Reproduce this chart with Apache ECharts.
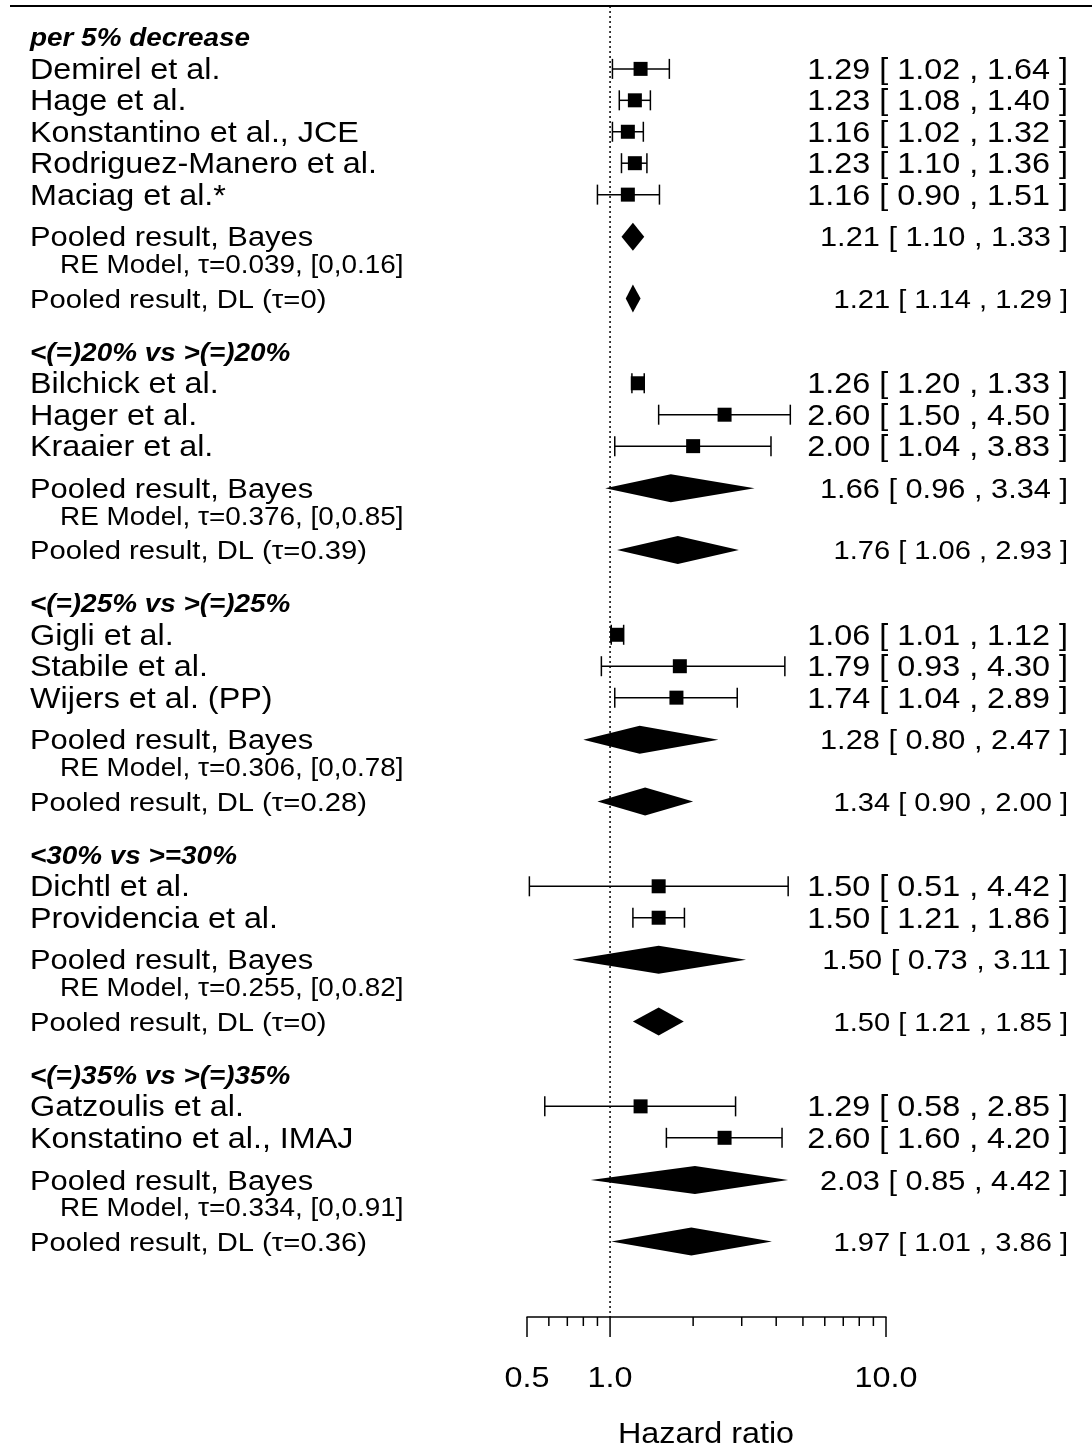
<!DOCTYPE html>
<html>
<head>
<meta charset="utf-8">
<script src="https://cdn.jsdelivr.net/npm/echarts@6/dist/echarts.min.js"></script>
<style>
html, body { margin: 0; padding: 0; background: #fff; }
#main { width: 1092px; height: 1447px; }
</style>
</head>
<body>
<div id="main"></div>
<script>
// data
var groupTitles = ["per 5% decrease", "<(=)20% vs >(=)20%", "<(=)25% vs >(=)25%", "<30% vs >=30%", "<(=)35% vs >(=)35%"];

var studyNames = ["Demirel et al.", "Hage et al.", "Konstantino et al., JCE", "Rodriguez-Manero et al.", "Maciag et al.*",
  "Bilchick et al.", "Hager et al.", "Kraaier et al.",
  "Gigli et al.", "Stabile et al.", "Wijers et al. (PP)",
  "Dichtl et al.", "Providencia et al.",
  "Gatzoulis et al.", "Konstatino et al., IMAJ"];
var studyGroup = [0, 0, 0, 0, 0, 1, 1, 1, 2, 2, 2, 3, 3, 4, 4];
var studyHR   = [1.29, 1.23, 1.16, 1.23, 1.16, 1.26, 2.60, 2.00, 1.06, 1.79, 1.74, 1.50, 1.50, 1.29, 2.60];
var studyLow  = [1.02, 1.08, 1.02, 1.10, 0.90, 1.20, 1.50, 1.04, 1.01, 0.93, 1.04, 0.51, 1.21, 0.58, 1.60];
var studyHigh = [1.64, 1.40, 1.32, 1.36, 1.51, 1.33, 4.50, 3.83, 1.12, 4.30, 2.89, 4.42, 1.86, 2.85, 4.20];

var bayesHR   = [1.21, 1.66, 1.28, 1.50, 2.03];
var bayesLow  = [1.10, 0.96, 0.80, 0.73, 0.85];
var bayesHigh = [1.33, 3.34, 2.47, 3.11, 4.42];
var reTau     = ["0.039", "0.376", "0.306", "0.255", "0.334"];
var reTauCI   = ["[0,0.16]", "[0,0.85]", "[0,0.78]", "[0,0.82]", "[0,0.91]"];

var dlTau  = ["0", "0.39", "0.28", "0", "0.36"];
var dlHR   = [1.21, 1.76, 1.34, 1.50, 1.97];
var dlLow  = [1.14, 1.06, 0.90, 1.21, 1.01];
var dlHigh = [1.29, 2.93, 2.00, 1.85, 3.86];

var tickMajor = [0.5, 1, 10];
var tickMajorLabels = ["0.5", "1.0", "10.0"];
var tickMinor = [0.6, 0.7, 0.8, 0.9, 2, 3, 4, 5, 6, 7, 8, 9];

// row layout (one unit = one text line)
var headerRow = [], studyRow = [], bayesRow = [], dlRow = [];
var r = 0, k = 0;
for (var g = 0; g < groupTitles.length; g++) {
  headerRow.push(r);
  var n = 0;
  while (k < studyGroup.length && studyGroup[k] == g) {
    studyRow.push(r + n + 1);
    n++; k++;
  }
  bayesRow.push(r + n + 1.34);
  dlRow.push(r + n + 3.3);
  r += n + 5;
}
var yMax = 40.7;

var FONT = "Liberation Sans";
var SX = 1.115; // the picture is a bit wider than tall
var TY = 2;     // text sits a little low in the original

function lg(v) { return Math.log10(v); }
function fmt(e, lo, hi) { return e.toFixed(2) + " [ " + lo.toFixed(2) + " , " + hi.toFixed(2) + " ]"; }
function txt(x, y, s, size, align, style) {
  return {
    type: "text", x: x, y: y + TY, scaleX: SX,
    style: {
      text: s, fill: "#000", fontFamily: FONT, fontSize: size,
      fontStyle: style ? "italic" : "normal", fontWeight: style ? "bold" : "normal",
      align: align, verticalAlign: "middle"
    }
  };
}
var LEFT_X = 30, RE_X = 60, RIGHT_X = 1068;

function diamond(api, e, lo, hi, row) {
  var c = api.coord([lg(e), row]);
  var a = api.coord([lg(lo), row]);
  var b = api.coord([lg(hi), row]);
  return {
    type: "polygon",
    shape: { points: [[a[0], c[1]], [c[0], c[1] - 14], [b[0], c[1]], [c[0], c[1] + 14]] },
    style: { fill: "#000" }
  };
}

var option = {
  animation: false,
  backgroundColor: "#fff",
  grid: { left: 527, right: 206, top: 6, bottom: 130 },
  xAxis: {
    type: "value", min: lg(0.5), max: 1, position: "bottom",
    axisLine: { show: true, onZero: false, lineStyle: { color: "#000", width: 1.5 } },
    axisTick: { show: false }, axisLabel: { show: false }, splitLine: { show: false }
  },
  yAxis: { type: "value", min: -1, max: yMax, inverse: true, show: false },
  graphic: [
    { type: "line", shape: { x1: 10, y1: 6, x2: 1092, y2: 6 }, style: { stroke: "#000", lineWidth: 2 } },
    txt(706, 1433, "Hazard ratio", 29, "center")
  ],
  series: [
    {
      // reference line at HR = 1
      type: "custom", data: [[0]],
      renderItem: function (params, api) {
        var a = api.coord([0, -1]), b = api.coord([0, yMax]);
        return { type: "line", shape: { x1: a[0], y1: a[1], x2: b[0], y2: b[1] },
          style: { stroke: "#000", lineWidth: 1.5, lineDash: [2, 3] } };
      }
    },
    {
      // axis ticks
      type: "custom",
      data: tickMajor.map(function (v, i) { return [lg(v), 1, i]; })
        .concat(tickMinor.map(function (v) { return [lg(v), 0, -1]; })),
      renderItem: function (params, api) {
        var p = api.coord([api.value(0), yMax]);
        var major = api.value(1) == 1;
        var ch = [{ type: "line", shape: { x1: p[0], y1: p[1], x2: p[0], y2: p[1] + (major ? 20 : 9) },
          style: { stroke: "#000", lineWidth: 1.5 } }];
        if (major) ch.push(txt(p[0], p[1] + 60, tickMajorLabels[api.value(2)], 29, "center"));
        return { type: "group", children: ch };
      }
    },
    {
      // group headers
      type: "custom",
      data: headerRow.map(function (row) { return [0, row]; }),
      renderItem: function (params, api) {
        var p = api.coord([0, api.value(1)]);
        return txt(LEFT_X, p[1], groupTitles[params.dataIndex], 25, "left", true);
      }
    },
    {
      // individual studies
      type: "custom",
      data: studyHR.map(function (v, i) { return [lg(v), studyRow[i], lg(studyLow[i]), lg(studyHigh[i])]; }),
      renderItem: function (params, api) {
        var i = params.dataIndex;
        var c = api.coord([api.value(0), api.value(1)]);
        var a = api.coord([api.value(2), api.value(1)]);
        var b = api.coord([api.value(3), api.value(1)]);
        var st = { stroke: "#000", lineWidth: 1.5 };
        return {
          type: "group",
          children: [
            { type: "line", shape: { x1: a[0], y1: c[1], x2: b[0], y2: c[1] }, style: st },
            { type: "line", shape: { x1: a[0], y1: c[1] - 10, x2: a[0], y2: c[1] + 10 }, style: st },
            { type: "line", shape: { x1: b[0], y1: c[1] - 10, x2: b[0], y2: c[1] + 10 }, style: st },
            { type: "rect", shape: { x: c[0] - 7, y: c[1] - 7, width: 14, height: 14 }, style: { fill: "#000" } },
            txt(LEFT_X, c[1], studyNames[i], 29, "left"),
            txt(RIGHT_X, c[1], fmt(studyHR[i], studyLow[i], studyHigh[i]), 29, "right")
          ]
        };
      }
    },
    {
      // pooled, Bayes random effects
      type: "custom",
      data: bayesHR.map(function (v, i) { return [lg(v), bayesRow[i]]; }),
      renderItem: function (params, api) {
        var i = params.dataIndex, row = bayesRow[i];
        var c = api.coord([0, row]);
        var c2 = api.coord([0, row + 0.87]);
        return {
          type: "group",
          children: [
            diamond(api, bayesHR[i], bayesLow[i], bayesHigh[i], row),
            txt(LEFT_X, c[1], "Pooled result, Bayes", 27.7, "left"),
            txt(RE_X, c2[1], "RE Model, \u03c4=" + reTau[i] + ", " + reTauCI[i], 25, "left"),
            txt(RIGHT_X, c[1], fmt(bayesHR[i], bayesLow[i], bayesHigh[i]), 27.6, "right")
          ]
        };
      }
    },
    {
      // pooled, DerSimonian-Laird
      type: "custom",
      data: dlHR.map(function (v, i) { return [lg(v), dlRow[i]]; }),
      renderItem: function (params, api) {
        var i = params.dataIndex, row = dlRow[i];
        var c = api.coord([0, row]);
        return {
          type: "group",
          children: [
            diamond(api, dlHR[i], dlLow[i], dlHigh[i], row),
            txt(LEFT_X, c[1], "Pooled result, DL (\u03c4=" + dlTau[i] + ")", 26.2, "left"),
            txt(RIGHT_X, c[1], fmt(dlHR[i], dlLow[i], dlHigh[i]), 26.1, "right")
          ]
        };
      }
    }
  ]
};

var myChart = echarts.init(document.getElementById("main"));
myChart.setOption(option);
</script>
</body>
</html>
